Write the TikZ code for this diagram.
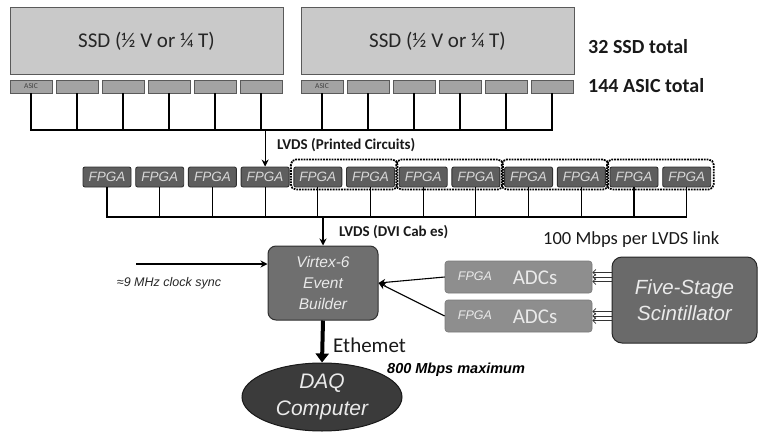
\documentclass[tikz,border=0pt]{standalone}
\usepackage{fontspec}
\setmainfont{Carlito}
\newfontfamily\arialf{Liberation Sans}
\usetikzlibrary{arrows.meta,shapes.geometric}
\definecolor{ssdfill}{HTML}{C9C9C9}
\definecolor{ssdline}{HTML}{5A5A5A}
\definecolor{asicfill}{HTML}{A3A3A3}
\definecolor{fpgafill}{HTML}{5E5E5E}
\definecolor{fpgaline}{HTML}{303030}
\definecolor{fpgatext}{HTML}{D8D8D8}
\definecolor{vxfill}{HTML}{6F6F6F}
\definecolor{adcfill}{HTML}{8E8E8E}
\definecolor{scfill}{HTML}{6A6A6A}
\definecolor{daqfill}{HTML}{3B3B3B}
\definecolor{lighttext}{HTML}{EAEAEA}
\tikzset{
  ssdbox/.style={draw=ssdline, fill=ssdfill, line width=1pt, minimum width=273pt, minimum height=67pt, inner sep=0pt, text=black!85, font=\fontsize{21}{21}\selectfont},
  asicbox/.style={draw=ssdline, fill=asicfill, line width=0.9pt, minimum width=42pt, minimum height=13pt, inner sep=0pt, text=black!75, font=\fontsize{7.5}{7.5}\selectfont},
  fpgabox/.style={draw=fpgaline, fill=fpgafill, line width=0.9pt, rounded corners=2pt, minimum width=48pt, minimum height=20pt, inner sep=0pt, text=fpgatext, font=\arialf\itshape\fontsize{13.5}{13.5}\selectfont},
  pairbox/.style={draw=black, densely dotted, line width=1.8pt, rounded corners=5pt},
  bus/.style={draw=black, line width=1.1pt},
  lvds/.style={draw=black, line width=1.2pt, -{Stealth[length=7pt,width=7pt]}},
  vxbox/.style={draw=fpgaline, fill=vxfill, line width=1pt, rounded corners=8pt, minimum width=110pt, minimum height=74pt, inner sep=0pt, align=center, text=lighttext, font=\arialf\itshape\fontsize{15.5}{21}\selectfont},
  adcbox/.style={draw=adcfill!85!black, fill=adcfill, line width=0.6pt, rounded corners=3pt, minimum width=147pt, minimum height=32pt, inner sep=0pt},
  adcsmall/.style={text=lighttext, font=\arialf\itshape\fontsize{12.5}{12.5}\selectfont, inner sep=0pt},
  adcbig/.style={text=lighttext, font=\fontsize{21}{21}\selectfont, inner sep=0pt},
  scbox/.style={draw=black!85, fill=scfill, line width=1pt, rounded corners=10pt, minimum width=145pt, minimum height=86pt, inner sep=0pt, align=center, text=lighttext, font=\arialf\itshape\fontsize{20.5}{26}\selectfont},
  daqbox/.style={ellipse, draw=black!90, fill=daqfill, line width=1pt, minimum width=160pt, minimum height=68pt, inner sep=0pt, align=center, text=lighttext, font=\arialf\itshape\fontsize{21}{27}\selectfont},
  sidelabel/.style={anchor=west, inner sep=0pt, text=black!90, font=\bfseries\fontsize{20}{20}\selectfont},
  lvdslabel/.style={anchor=west, inner sep=0pt, text=black!90, font=\bfseries\fontsize{15}{15}\selectfont},
  thinarrow/.style={draw=black!80, line width=0.8pt, -{Straight Barb[length=3pt,width=6pt]}},
}
\begin{document}
\begin{tikzpicture}[x=1pt,y=-1pt]
\useasboundingbox (0,0) rectangle (760,433);

% SSDs
\node[ssdbox] (ssd1) at (146.5,41.5) {SSD (½ V or ¼ T)};
\node[ssdbox] (ssd2) at (437.5,41.5) {SSD (½ V or ¼ T)};
\node[sidelabel] (ssdtot) at (588,47) {32 SSD total};
\node[sidelabel] (asictot) at (588,86) {144 ASIC total};

% ASICs
\node[asicbox] (a1) at (31,86.5) {ASIC};
\foreach \i in {2,...,6} {
  \pgfmathsetmacro\cx{31+46*(\i-1)}
  \node[asicbox] (a\i) at (\cx,86.5) {};
}
\node[asicbox] (a7) at (322,86.5) {ASIC};
\foreach \i in {8,...,12} {
  \pgfmathsetmacro\cx{322+46*(\i-7)}
  \node[asicbox] (a\i) at (\cx,86.5) {};
}

% ASIC bus
\coordinate (busA) at (0,130);
\foreach \i in {1,...,12} \draw[bus] (a\i.south) -- (a\i.south |- busA);
\draw[bus, line cap=rect] (a1.south |- busA) -- (a12.south |- busA);

% FPGAs
\foreach \i in {1,...,12} {
  \pgfmathsetmacro\cx{107+52.7*(\i-1)}
  \node[fpgabox] (f\i) at (\cx,177) {FPGA};
}
\draw[lvds] (f4.north |- busA) -- (f4.north);
\node[lvdslabel] (lvdsp) at (277,145) {LVDS (Printed Circuits)};

% dotted pair boxes
\draw[pairbox] ([xshift=-2.5pt,yshift=7pt]f5.north west) rectangle ([xshift=2.5pt,yshift=-2pt]f6.south east);
\draw[pairbox] ([xshift=-2.5pt,yshift=7pt]f7.north west) rectangle ([xshift=2.5pt,yshift=-2pt]f8.south east);
\draw[pairbox] ([xshift=-2.5pt,yshift=7pt]f9.north west) rectangle ([xshift=2.5pt,yshift=-2pt]f10.south east);
\draw[pairbox] ([xshift=-2.5pt,yshift=7pt]f11.north west) rectangle ([xshift=2.5pt,yshift=-2pt]f12.south east);

% FPGA bus
\coordinate (busF) at (0,217);
\foreach \i in {1,...,12} \draw[bus] (f\i.south) -- (f\i.south |- busF);
\draw[bus, line cap=rect] (f1.south |- busF) -- (f12.south |- busF);

% Virtex
\node[vxbox] (vx) at (323,283) {Virtex-6\\Event\\Builder};
\draw[lvds] (vx.north |- busF) -- (vx.north);
\node[lvdslabel] (lvdsd) at (339,232) {LVDS (DVI Cab es)};

% clock
\coordinate (clk) at (136,264);
\draw[lvds] (clk) -- (clk -| vx.west);
\node[anchor=center, inner sep=0pt, text=black!85, font=\arialf\itshape\fontsize{12.5}{12.5}\selectfont] (clklabel) at (169,283) {≈9 MHz clock sync};

% ADCs
\node[adcbox] (adc1) at (518.5,277) {};
\node[adcbox] (adc2) at (518.5,316) {};
\node[adcsmall] (adc1f) at (475,276) {FPGA};
\node[adcbig] (adc1t) at (535,278) {ADCs};
\node[adcsmall] (adc2f) at (475,315) {FPGA};
\node[adcbig] (adc2t) at (535,317) {ADCs};
\draw[lvds, line width=1.1pt] (adc1.west) -- (vx.east);
\draw[lvds, line width=1.1pt] (adc2.west) -- (vx.east);

\node[anchor=west, inner sep=0pt, text=black!90, font=\fontsize{18.5}{18.5}\selectfont] (rate) at (543,240) {100 Mbps per LVDS link};

% Scintillator
\node[scbox] (sc) at (684.5,300) {Five-Stage\\Scintillator};
\foreach \d in {-4.5,0,4.5} {
  \draw[thinarrow] ([yshift=-\d pt]sc.west |- adc1.east) -- ([yshift=-\d pt]adc1.east);
  \draw[thinarrow] ([yshift=-\d pt]sc.west |- adc2.east) -- ([yshift=-\d pt]adc2.east);
}

% DAQ
\node[daqbox] (daq) at (322,397) {DAQ\\Computer};
\draw[line width=4pt, -{Triangle[length=9pt,width=13pt]}] (vx.south) -- (daq.north);
\node[anchor=west, inner sep=0pt, text=black!90, font=\fontsize{21}{21}\selectfont] (eth) at (333,345) {Ethemet};
\node[anchor=west, inner sep=0pt, text=black, font=\arialf\bfseries\itshape\fontsize{14.5}{14.5}\selectfont] (maxrate) at (387,370) {800 Mbps maximum};
\end{tikzpicture}
\end{document}
